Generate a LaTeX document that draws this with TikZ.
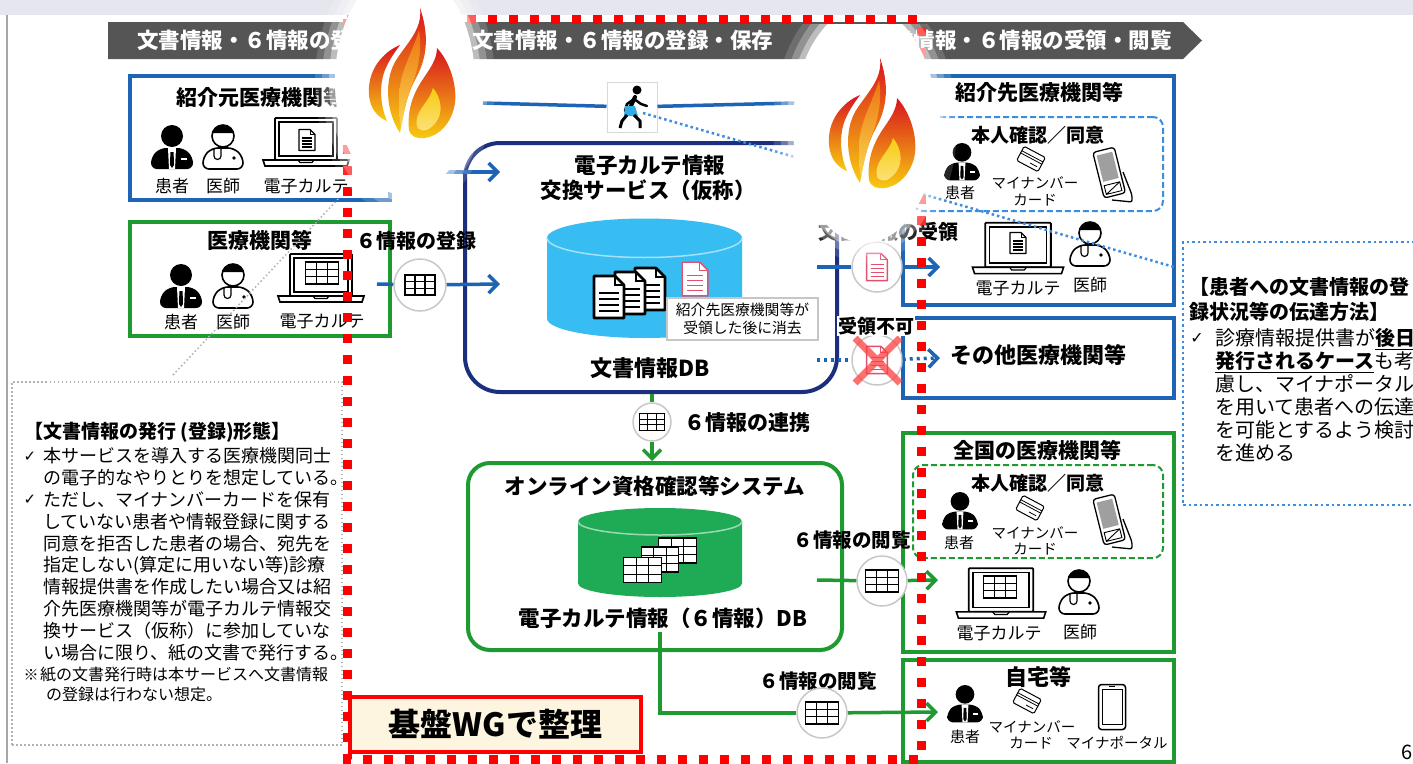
\documentclass[tikz,border=0pt]{standalone}
\usepackage{fontspec}
\setmainfont{Noto Sans CJK JP}
\newfontfamily\chkfont{DejaVu Sans}
\usetikzlibrary{arrows.meta}

\definecolor{boxblue}{HTML}{1E64B4}
\definecolor{navy}{HTML}{1C2F7E}
\definecolor{boxgreen}{HTML}{1E9A30}
\definecolor{dbblue}{HTML}{38BDF2}
\definecolor{dbgreen}{HTML}{1FAA55}
\definecolor{bannergray}{HTML}{555555}
\definecolor{docpink}{HTML}{E2506E}
\definecolor{framered}{HTML}{FF0000}
\definecolor{cream}{HTML}{FDF5E0}
\definecolor{topband}{HTML}{E6E6EE}
\definecolor{dotblue}{HTML}{3C8CE0}
\definecolor{circgray}{HTML}{C8C8C8}
\definecolor{flamered}{HTML}{D8141E}
\definecolor{flameorange}{HTML}{F07A10}
\definecolor{flameyellow}{HTML}{F8CC10}
\definecolor{flamelight}{HTML}{FBE27A}

\newcommand\fsz[1]{\fontsize{#1}{#1}\selectfont}

\tikzset{
  site/.style={draw=#1, line width=4pt, inner sep=0pt, fill=white},
  idash/.style={draw=#1, line width=2pt, dash pattern=on 6pt off 3pt, rounded corners=10pt, inner sep=0pt},
  circ/.style={circle, draw=circgray, line width=1.5pt, fill=white, minimum size=#1, inner sep=0pt},
  ttl/.style={inner sep=0pt, font=\fsz{21}\bfseries},
  sub/.style={inner sep=0pt, font=\fsz{19}\bfseries},
  lbl/.style={inner sep=0pt, font=\fsz{17}},
  sml/.style={inner sep=0pt, font=\fsz{14.5}},
  bantxt/.style={inner sep=0pt, text=white, font=\fsz{21.5}\bfseries},
  bline/.style={draw=boxblue, line width=3.5pt},
  barrow/.style={bline, -{Straight Barb[length=9pt,width=18pt]}},
  bdot/.style={draw=boxblue, line width=3.5pt, dash pattern=on 3pt off 4pt},
  gline/.style={draw=boxgreen, line width=3.5pt},
  garrow/.style={gline, -{Straight Barb[length=9pt,width=18pt]}},
  % icons
  patient/.pic={
    \fill (0,-9) circle (11);
    \fill[rounded corners=6pt] (-21,24) -- (-21,12) -- (-12,3) -- (12,3) -- (21,12) -- (21,24) -- cycle;
    \fill[white] (-4,3) -- (4,3) -- (3,24) -- (-3,24) -- cycle;
    \fill (-1.6,7) -- (1.6,7) -- (2,20) -- (0,23) -- (-2,20) -- cycle;
    \fill[white] (9,13) rectangle (15,14.8);
  },
  doctor/.pic={
    \draw[line width=1.6pt, fill=white, rounded corners=6pt] (-20,24) -- (-20,12) -- (-11,3) -- (11,3) -- (20,12) -- (20,24) -- cycle;
    \draw[line width=1.6pt, fill=white] (0,-9) circle (11);
    \fill (0,-9) ++(195:11) arc[start angle=195, end angle=345, radius=11] -- cycle;
    \draw[line width=1.2pt] (-9,4) -- (-9,11) arc[start angle=180, end angle=0, radius=3.5] -- (-2,4);
    \fill (11,13) circle (1.8);
  },
  laptop/.pic={
    \draw[line width=1.8pt, fill=white, rounded corners=1pt] (-31,-21) rectangle (31,21);
    \draw[line width=1.2pt] (-27,-17) rectangle (27,17);
    \draw[line width=1.6pt, fill=white] (-43,21) -- (43,21) -- (41,27) -- (-41,27) -- cycle;
    \draw[line width=1.2pt] (-8,21) -- (-6,23.5) -- (6,23.5) -- (8,21);
  },
  docicon/.pic={
    \draw[line width=1.4pt, fill=white, line join=round] (-8,-10.5) -- (3,-10.5) -- (8,-5.5) -- (8,10.5) -- (-8,10.5) -- cycle;
    \draw[line width=1pt] (3,-10.5) -- (3,-5.5) -- (8,-5.5);
    \foreach \yy in {-2,1,4,7} \draw[line width=1.1pt] (-5,\yy) -- (5,\yy);
  },
  bigdoc/.pic={
    \draw[line width=2.6pt, fill=white, line join=round] (-15,-21) -- (6,-21) -- (15,-12) -- (15,21) -- (-15,21) -- cycle;
    \draw[line width=2pt] (6,-21) -- (6,-12) -- (15,-12);
    \foreach \yy in {-4,2,8,14} \draw[line width=2.2pt] (-10,\yy) -- (10,\yy);
  },
  tableicon/.pic={
    \draw[line width=1.1pt, fill=white] (-15,-10) rectangle (15,10);
    \draw[line width=1.1pt] (-5,-10) -- (-5,10) (5,-10) -- (5,10) (-15,-3.3) -- (15,-3.3) (-15,3.3) -- (15,3.3);
  },
  card/.pic={
    \begin{scope}[rotate=-28]
      \draw[line width=1pt, fill=white, rounded corners=1.5pt] (-12,-8) rectangle (12,8);
      \draw[line width=.8pt] (-12,-3) -- (12,-3) (-12,-.5) -- (12,-.5) (1,4) -- (9,4);
    \end{scope}
  },
  reader/.pic={
    \draw[line width=1.3pt, rounded corners=2pt] (2,24) -- (22,26) -- (22,19) -- (13,-4);
    \begin{scope}[rotate=14]
      \draw[line width=1.3pt, fill=white, rounded corners=3pt] (-11,-27) rectangle (11,20);
      \fill[gray!75] (-8,-23) rectangle (8,4);
      \draw[line width=.9pt] (-8,8) rectangle (8,17) (-8,17) -- (8,8);
    \end{scope}
  },
  phone/.pic={
    \draw[line width=1.5pt, rounded corners=3pt, fill=white] (-13.5,-22.5) rectangle (13.5,22.5);
    \draw[line width=1pt] (-10,-18) rectangle (10,17);
    \draw[line width=1pt] (-3,-20.5) -- (3,-20.5);
  },
  % three tongues of flame, separated by white gaps
  flame/.pic={
    \shade[top color=flamered, middle color=flameorange, bottom color=flameyellow]
      (45,45) .. controls (28,52) and (12,70) .. (14,95)
      .. controls (15,108) and (22,117) .. (32,121)
      .. controls (25,105) and (24,85) .. (30,70)
      .. controls (34,60) and (40,52) .. (45,45) -- cycle;
    \shade[top color=flamered, middle color=flameorange!80!flamered, bottom color=flameyellow]
      (65,8) .. controls (68,30) and (50,45) .. (40,62)
      .. controls (30,80) and (30,110) .. (45,133)
      .. controls (48,115) and (52,95) .. (60,80)
      .. controls (70,62) and (76,40) .. (65,8) -- cycle;
    \shade[top color=flameorange, bottom color=flameyellow!70!white, opacity=.9]
      (64,30) .. controls (58,52) and (44,72) .. (44,98)
      .. controls (44,112) and (45,122) .. (46,128)
      .. controls (49,110) and (53,94) .. (58,82)
      .. controls (64,66) and (67,48) .. (64,30) -- cycle;
    \shade[top color=flamered, middle color=flameorange, bottom color=flameyellow]
      (82,48) .. controls (95,62) and (102,85) .. (100,103)
      .. controls (98,118) and (88,135) .. (70,138)
      .. controls (62,139) and (56,137) .. (54,130)
      .. controls (52,110) and (58,95) .. (66,82)
      .. controls (74,70) and (82,60) .. (82,48) -- cycle;
    \shade[top color=flameyellow, bottom color=flamelight]
      (78,88) .. controls (88,100) and (90,120) .. (72,130)
      .. controls (64,132) and (60,128) .. (62,118)
      .. controls (64,108) and (75,100) .. (78,88) -- cycle;
  },
}

% soft white halo behind a flame
\newcommand\halo[4]{%
  \foreach \k/\op in {20/0.15,13/0.25,6/0.4}
    \fill[white, opacity=\op] (#1,#2) ellipse [x radius={#3+\k}, y radius={#4+\k}];
  \fill[white] (#1,#2) ellipse [x radius=#3, y radius=#4];
}

\begin{document}
\begin{tikzpicture}[x=1pt,y=-1pt]
\useasboundingbox (0,0) rectangle (1413,763);
\fill[white] (0,0) rectangle (1413,763);
\fill[topband] (0,0) rectangle (1413,15);
\draw[gray!70, line width=2pt] (7,15) -- (7,763);

% ---- phase banner
\fill[bannergray] (108,22) -- (1183,22) -- (1202,40.5) -- (1183,59) -- (108,59) -- cycle;
\node[bantxt, anchor=west] (ban1) at (137,40.5) {文書情報・６情報の登録・発行};
\node[bantxt, anchor=west] (ban2) at (472,40.5) {文書情報・６情報の登録・保存};
\node[bantxt, anchor=east] (ban3) at (1172,40.5) {文書情報・６情報の受領・閲覧};

% ---- sending side
\node[site=boxblue, minimum width=260pt, minimum height=124pt] (src) at (260,138) {};
\node[ttl] (srcT) at (260,97) {紹介元医療機関等};
\pic at (172,145) {patient};
\pic at (223,145) {doctor};
\pic at (306,139) {laptop};
\pic at (307,140) {docicon};
\node[lbl] (srcP) at (172,186) {患者};
\node[lbl] (srcD) at (223,186) {医師};
\node[lbl] (srcE) at (306,186) {電子カルテ};

\node[site=boxgreen, minimum width=260pt, minimum height=114pt] (gen) at (260,279) {};
\node[ttl] (genT) at (260,240) {医療機関等};
\pic at (181,284) {patient};
\pic at (233,284) {doctor};
\pic at (321,275) {laptop};
\pic[scale=1.1] at (322,273) {tableicon};
\node[lbl] (genP) at (181,322) {患者};
\node[lbl] (genD) at (233,322) {医師};
\node[lbl] (genE) at (322,321) {電子カルテ};

% ---- walker strip
\coordinate (walkL) at (483,103);
\coordinate (walkR) at (795,103);
\node[draw=gray!30, line width=1pt, fill=white, minimum size=50pt, inner sep=0pt] (walker) at (632,107) {};
\draw[bline] (walkL) -- (walker);
\draw[bline] (walker) -- (walkR);
\fill (637,90) circle (4.5);
\draw[line width=4pt, line cap=round] (635,97) -- (630,108);
\draw[line width=2.5pt, line cap=round, line join=round] (634,99) -- (627,104) -- (625,111);
\draw[line width=2.5pt, line cap=round, line join=round] (634,99) -- (641,104) -- (647,106);
\fill[dbblue!80!boxblue] (625,106) -- (635,106) -- (638,116) -- (624,116) -- cycle;
\draw[line width=3pt, line join=round] (627,115) -- (622,121) -- (620,128);
\draw[line width=3pt, line join=round] (634,115) -- (640,121) -- (640,128);

% ---- exchange service
\node[site=navy, rounded corners=35pt, minimum width=372pt, minimum height=249pt] (svc) at (651,267.5) {};
\node[ttl, font=\fsz{21.5}\bfseries] (svcT1) at (650,165) {電子カルテ情報};
\node[ttl, font=\fsz{21.5}\bfseries] (svcT2) at (648,190) {交換サービス（仮称）};
\fill[dbblue] (547,238) -- (547,318.5) arc[start angle=180, end angle=0, x radius=97.5, y radius=19.5] -- (742,238) -- cycle;
\fill[dbblue] (644.5,238) ellipse [x radius=97.5, y radius=19.5];
\draw[white!55!dbblue, line width=1.5pt] (547,238) arc[start angle=180, end angle=0, x radius=97.5, y radius=19.5];
\pic at (650,289) {bigdoc};
\pic at (630,293) {bigdoc};
\pic at (609,297) {bigdoc};
\pic[color=docpink, scale=1.6] at (695,279) {docicon};
\node[draw=gray!45, line width=1.2pt, fill=white, minimum width=151pt, minimum height=42pt, inner sep=0pt,
      align=center, font=\fontsize{14.8}{18}\selectfont] (erase) at (742.5,319) {紹介先医療機関等が\\受領した後に消去};
\node[ttl, font=\fsz{22}\bfseries] (dbT) at (650,368) {文書情報DB};

% ---- arrows into the service
\coordinate (srcTip) at (500,172);
\draw[barrow] (src.east |- srcTip) -- (srcTip);
\node[ttl, font=\fsz{20}\bfseries] (regT) at (416,241) {６情報の登録};
\coordinate (regSrc) at (377,284);
\node[circ=52pt] (regC) at (420,285) {};
\pic at (regC) {tableicon};
\coordinate (regTip) at (500,284);
\draw[bline] (regSrc) -- (regC);
\draw[barrow] (regC) -- (regTip);

% ---- online qualification system
\node[site=boxgreen, rounded corners=22pt, minimum width=374pt, minimum height=187pt] (online) at (655,556.5) {};
\node[ttl, font=\fsz{21.5}\bfseries] (onT) at (655,486) {オンライン資格確認等システム};
\fill[dbgreen] (578,521.5) -- (578,583.5) arc[start angle=180, end angle=0, x radius=82, y radius=13.5] -- (742,521.5) -- cycle;
\fill[dbgreen] (660,521.5) ellipse [x radius=82, y radius=13.5];
\draw[white!55!dbgreen, line width=1.5pt] (578,521.5) arc[start angle=180, end angle=0, x radius=82, y radius=13.5];
\pic[scale=1.25] at (677.5,550.5) {tableicon};
\pic[scale=1.25] at (660,559.5) {tableicon};
\pic[scale=1.25] at (642.5,570) {tableicon};
\node[ttl, font=\fsz{21.5}\bfseries] (onDB) at (663,618) {電子カルテ情報（６情報）DB};

\node[circ=38pt] (linkC) at (652,422) {};
\pic[scale=.85] at (linkC) {tableicon};
\draw[gline] (svc.south -| linkC) -- (linkC);
\draw[garrow] (linkC) -- (linkC |- online.north);
\node[ttl, anchor=west] (linkT) at (684,423) {６情報の連携};

% ---- receiving side
\node[site=boxblue, minimum width=271pt, minimum height=229pt] (dst) at (1038.5,190.5) {};
\node[ttl] (dstT) at (1039,92) {紹介先医療機関等};
\node[idash=dotblue, minimum width=250pt, minimum height=94pt] (dstId) at (1038,164) {};
\node[sub] (dstIdT) at (1038,135) {本人確認／同意};
\pic[scale=.85] at (962,160) {patient};
\node[sml, font=\fsz{15}] (dstP) at (960,193) {患者};
\pic at (1031,159) {card};
\node[sml] (dstC1) at (1035,183) {マイナンバー};
\node[sml] (dstC2) at (1035,200) {カード};
\pic at (1110,176) {reader};
\pic[scale=1.06] at (1018,245) {laptop};
\pic at (1018,243) {docicon};
\node[lbl] (dstE) at (1018,288) {電子カルテ};
\pic at (1090,242) {doctor};
\node[lbl] (dstD) at (1090,285) {医師};

\node[site=boxblue, minimum width=271pt, minimum height=80pt] (oth) at (1038.5,358) {};
\node[ttl, font=\fsz{22}\bfseries] (othT) at (1038,355) {その他医療機関等};

\node[site=boxgreen, minimum width=271pt, minimum height=219pt] (nat) at (1038.5,542.5) {};
\node[ttl] (natT) at (1037,450) {全国の医療機関等};
\node[idash=boxgreen, minimum width=250pt, minimum height=93pt] (natId) at (1038,511.5) {};
\node[sub] (natIdT) at (1038,483) {本人確認／同意};
\pic[scale=.85] at (960,509) {patient};
\node[sml, font=\fsz{15}] (natP) at (959,543) {患者};
\pic at (1030,508) {card};
\node[sml] (natC1) at (1035,533) {マイナンバー};
\node[sml] (natC2) at (1035,549) {カード};
\pic at (1110,523) {reader};
\pic[scale=1.04] at (1001,590) {laptop};
\pic[scale=1.1] at (1000,587) {tableicon};
\node[lbl] (natE) at (999,633) {電子カルテ};
\pic at (1079,590) {doctor};
\node[lbl] (natD) at (1080,632) {医師};

\node[site=boxgreen, minimum width=271pt, minimum height=102pt] (home) at (1038.5,711) {};
\node[ttl, font=\fsz{22}\bfseries] (homeT) at (1038,677) {自宅等};
\pic[scale=.85] at (965,702) {patient};
\node[sml, font=\fsz{15}] (homeP) at (965,737) {患者};
\pic at (1027,701) {card};
\node[sml] (homeC1) at (1032,727) {マイナンバー};
\node[sml] (homeC2) at (1031,743) {カード};
\pic at (1112,707) {phone};
\node[sml] (homeM) at (1117,743) {マイナポータル};

% ---- flows out of the service
\node[ttl, font=\fsz{20}\bfseries] (rcvT) at (888,232) {文書情報の受領};
\coordinate (rcvSrc) at (817,267);
\node[circ=50pt] (rcvC) at (877,267) {};
\pic[color=docpink, scale=1.3] at (rcvC) {docicon};
\coordinate (rcvTip) at (940,267);
\draw[bline] (rcvSrc) -- (rcvC);
\draw[barrow] (rcvC) -- (rcvTip);

\coordinate (ngSrc) at (817,360);
\node[circ=50pt] (ngC) at (877,360) {};
\pic[color=docpink, scale=1.3] at (ngC) {docicon};
\draw[red!75!white, opacity=.75, line width=7pt] (855,338) -- (900,383) (900,338) -- (855,383);
\coordinate (ngTip) at (940,358);
\draw[bdot] (ngSrc) -- (ngC);
\draw[bdot, -{Straight Barb[length=9pt,width=18pt]}] (ngC) -- (ngTip);
\node[ttl, font=\fsz{19}\bfseries, fill=white, inner sep=1pt] (ngT) at (876,326) {受領不可};

\node[ttl, font=\fsz{19.5}\bfseries] (v1T) at (852,540) {６情報の閲覧};
\coordinate (v1Src) at (817,580);
\node[circ=50pt] (v1C) at (882,581) {};
\pic[scale=1.1] at (v1C) {tableicon};
\coordinate (v1Tip) at (938,580);
\draw[gline] (v1Src) -- (v1C);
\draw[garrow] (v1C) -- (v1Tip);

\node[ttl, font=\fsz{19.5}\bfseries] (v2T) at (818,681) {６情報の閲覧};
\coordinate (v2Src) at (660,632);
\node[circ=50pt] (v2C) at (822,713) {};
\pic[scale=1.1] at (v2C) {tableicon};
\coordinate (v2Tip) at (938,712);
\draw[gline] (v2Src) |- (v2C);
\draw[garrow] (v2C) -- (v2Tip);

% ---- notes
\node[draw=gray!60, line width=1.5pt, dash pattern=on 1.5pt off 2.5pt, minimum width=330pt, minimum height=363pt, inner sep=0pt] (note1) at (177,563.5) {};
\coordinate (gd1) at (173,375);
\coordinate (gd2) at (340,197);
\draw[gray!60, line width=1.5pt, dash pattern=on 1.5pt off 2.5pt] (gd1) -- (gd2);
\node[anchor=west, inner sep=0pt, font=\fsz{19}\bfseries] (n1T) at (24,432) {【文書情報の発行 (登録)形態】};
\node[inner sep=0pt, font=\chkfont\fsz{15}] (n1c1) at (30,457) {✓};
\node[inner sep=0pt, font=\chkfont\fsz{15}] (n1c2) at (30,500) {✓};
\node[anchor=north west, inner sep=0pt, align=left, font=\fontsize{18}{21.8}\selectfont] (n1B) at (43,447.5) {%
本サービスを導入する医療機関同士\\
の電子的なやりとりを想定している。\\
ただし、マイナンバーカードを保有\\
していない患者や情報登録に関する\\
同意を拒否した患者の場合、宛先を\\
指定しない(算定に用いない等)診療\\
情報提供書を作成したい場合又は紹\\
介先医療機関等が電子カルテ情報交\\
換サービス（仮称）に参加していな\\
い場合に限り、紙の文書で発行する。};
\node[inner sep=0pt, font=\fsz{15}] (n1m) at (31,675) {※};
\node[anchor=north west, inner sep=0pt, align=left, font=\fontsize{16}{19.5}\selectfont] (n1S) at (40,667) {%
紙の文書発行時は本サービスへ文書情報\\
\hspace*{6pt}の登録は行わない想定。};

\node[draw=dotblue, line width=2.5pt, dash pattern=on 2.5pt off 3pt, minimum width=240pt, minimum height=263pt, inner sep=0pt] (note2) at (1303,373.5) {};
\coordinate (walkDot) at (643,113);
\coordinate (ptrEnd) at (1174,267);
\draw[dotblue, line width=2.5pt, dash pattern=on 2.5pt off 3pt] (walkDot) -- (ptrEnd);
\node[anchor=west, inner sep=0pt, font=\fsz{20}\bfseries] (n2T1) at (1189,287) {【患者への文書情報の登};
\node[anchor=west, inner sep=0pt, font=\fsz{20}\bfseries] (n2T2) at (1189,312) {録状況等の伝達方法】};
\node[inner sep=0pt, font=\chkfont\fsz{16}] (n2c) at (1197,338) {✓};
\node[anchor=north west, inner sep=0pt, align=left, font=\fontsize{20}{23}\selectfont] (n2B) at (1215,328) {%
診療情報提供書が\underline{\textbf{後日}}\\
\underline{\textbf{発行されるケース}}も考\\
慮し、マイナポータル\\
を用いて患者への伝達\\
を可能とするよう検討\\
を進める};

\node[anchor=west, inner sep=0pt, font=\fsz{20}] (pgno) at (1401,752) {6};

% ---- platform WG frame
\draw[framered, line width=9pt, dash pattern=on 9pt off 12pt] (347,19) rectangle (921,759);
\node[draw=framered, line width=4pt, fill=cream, minimum width=291pt, minimum height=55pt, inner sep=0pt,
      font=\fsz{32}\bfseries] (wg) at (495.5,724.5) {基盤WGで整理};

% ---- flames with their halos
\halo{405}{82}{70}{113}
\begin{scope}
  \clip (0,24) rectangle (1413,763);
  \halo{865}{125}{72}{118}
\end{scope}
\pic at (355,0) {flame};
\pic at (815,50) {flame};
\end{tikzpicture}
\end{document}
